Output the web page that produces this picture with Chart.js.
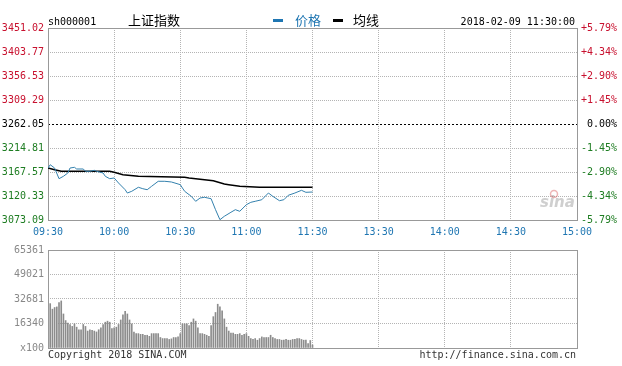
<!DOCTYPE html>
<html>
<head>
<meta charset="utf-8">
<script src="https://cdn.jsdelivr.net/npm/chart.js@4/dist/chart.umd.min.js"></script>
<style>
    html, body { margin: 0; padding: 0; background: #fff; }
    #wrap { position: relative; width: 622px; height: 366px; }
    #price-chart { position: absolute; left: 0; top: 0; }
    #vol-chart { position: absolute; left: 0; top: 240px; }
</style>
</head>
<body>
<div id="wrap">
    <canvas id="price-chart" width="622" height="240"></canvas>
    <canvas id="vol-chart" width="622" height="126"></canvas>
</div>
<script>
const symbol = 'sh000001';
const indexName = '上证指数';
const tradeTime = '2018-02-09 11:30:00';
const prevClose = 3262.05;

// left / right axis of the price panel
const priceTicks = [3073.09, 3120.33, 3167.57, 3214.81, 3262.05, 3309.29, 3356.53, 3403.77, 3451.02];
const pctLabels = ['-5.79%', '-4.34%', '-2.90%', '-1.45%', '0.00%', '+1.45%', '+2.90%', '+4.34%', '+5.79%'];

// minutes since 09:30 (11:30 and 13:00 share minute 120)
const timeTicks = [0, 30, 60, 90, 120, 150, 180, 210, 240];
const timeLabels = ['09:30', '10:00', '10:30', '11:00', '11:30', '13:30', '14:00', '14:30', '15:00'];

const priceMinutes = [0, 1, 3, 5, 7, 9, 10, 12, 13, 16, 17, 19, 21, 22, 25, 26, 28, 30, 32, 35, 36, 38, 41, 43, 45, 47, 50, 53, 56, 59, 60, 61, 62, 65, 67, 69, 71, 74, 76, 78, 80, 83, 85, 87, 90, 92, 94, 97, 100, 102, 105, 107, 109, 112, 115, 117, 120];
const prices = [3175.4, 3181.9, 3175.4, 3154.4, 3159.1, 3165.6, 3175.4, 3176.8, 3173.5, 3173.5, 3169.0, 3169.0, 3170.9, 3169.0, 3165.6, 3159.1, 3154.4, 3155.8, 3145.9, 3132.7, 3126.2, 3129.6, 3137.5, 3134.7, 3132.7, 3139.4, 3149.3, 3149.3, 3147.9, 3144.0, 3142.6, 3136.0, 3129.6, 3119.7, 3109.9, 3116.4, 3117.8, 3115.0, 3093.4, 3073.7, 3080.4, 3088.3, 3093.4, 3090.2, 3103.2, 3107.9, 3109.9, 3113.0, 3126.2, 3119.7, 3111.1, 3113.0, 3121.7, 3126.2, 3131.5, 3127.6, 3128.2];

const avgMinutes = [0, 3, 6, 28, 30, 34, 41, 62, 64, 75, 80, 82, 87, 96, 120];
const avgPrices = [3175.4, 3172.1, 3169.0, 3169.0, 3167.0, 3162.3, 3159.1, 3157.1, 3155.8, 3150.4, 3144.0, 3142.6, 3139.4, 3137.5, 3137.5];

// volume panel (x100 shares), one bar per minute from 09:31
const volTicks = [0, 16340, 32681, 49021, 65361];
const volLabels = ['x100', '16340', '32681', '49021', '65361'];
const volumes = [
    29600, 25900, 27000, 27400, 30300, 31400, 22700, 18300, 16600, 15700,
    14400, 16100, 13900, 12200, 12200, 15700, 14400, 11300, 12200, 11800,
    11300, 10700, 12200, 13500, 15700, 17200, 17900, 17200, 12900, 13500,
    13900, 15700, 18700, 22200, 24400, 22700, 18700, 16100, 10700, 9600,
    9600, 9100, 9100, 8500, 8500, 7800, 9600, 9600, 9600, 9600,
    7000, 6300, 6300, 6300, 5700, 6100, 7000, 7000, 7400, 9600,
    16100, 16100, 16100, 15000, 17200, 19400, 17900, 13500, 9600, 9600,
    9100, 8500, 7800, 15000, 20900, 23700, 29200, 27500, 24800, 19400,
    13900, 11300, 10000, 10000, 9100, 9100, 9600, 8500, 9100, 9600,
    7800, 6300, 5700, 6300, 5200, 6300, 7400, 7000, 7000, 7000,
    8500, 7000, 6300, 5700, 5700, 5200, 5200, 5700, 5200, 5200,
    5700, 5700, 6300, 6300, 5700, 5200, 5200, 3000, 5000, 2000
];

const RED = '#c8102e';
const GREEN = '#1e7d22';
const BLUE = '#1f76b2';
const GRID = '#b4b4b4';
const MONO = '"DejaVu Sans Mono", "Liberation Mono", monospace';

Chart.defaults.font.family = MONO;
Chart.defaults.font.size = 10;

function tickColor(v) {
    if (v > prevClose + 0.001) return RED;
    if (v < prevClose - 0.001) return GREEN;
    return '#000';
}

const priceFrame = {
    id: 'priceFrame',
    beforeDatasetsDraw(chart) {
        const { ctx, chartArea: a } = chart;
        const y = Math.round(chart.scales.y.getPixelForValue(prevClose)) + 0.5;
        ctx.save();
        ctx.strokeStyle = '#000';
        ctx.lineWidth = 1;
        ctx.setLineDash([2, 2]);
        ctx.beginPath();
        ctx.moveTo(a.left, y);
        ctx.lineTo(a.right, y);
        ctx.stroke();
        ctx.setLineDash([]);
        ctx.strokeStyle = '#999';
        ctx.strokeRect(a.left + 0.5, a.top + 0.5, a.right - a.left, a.bottom - a.top);

        // watermark
        ctx.fillStyle = 'rgba(160,160,160,0.5)';
        ctx.font = 'italic bold 15px "DejaVu Sans"';
        ctx.textAlign = 'left';
        ctx.textBaseline = 'alphabetic';
        ctx.fillText('sina', 540, 207);
        ctx.strokeStyle = 'rgba(215,90,90,0.45)';
        ctx.lineWidth = 1.5;
        ctx.beginPath();
        ctx.arc(554, 194, 3.5, 0, Math.PI * 2);
        ctx.stroke();
        ctx.restore();
    },
    afterDraw(chart) {
        const { ctx } = chart;
        ctx.save();
        ctx.textBaseline = 'alphabetic';
        ctx.textAlign = 'left';
        ctx.fillStyle = '#000';
        ctx.font = '10px ' + MONO;
        ctx.fillText(symbol, 48, 25);
        ctx.font = '13px "Noto Sans CJK SC"';
        ctx.fillText(indexName, 128, 25);

        ctx.fillStyle = BLUE;
        ctx.fillRect(273, 19, 10, 3);
        ctx.fillText('价格', 295, 25);
        ctx.fillStyle = '#000';
        ctx.fillRect(333, 19, 10, 3);
        ctx.fillText('均线', 353, 25);

        ctx.font = '10px ' + MONO;
        ctx.textAlign = 'right';
        ctx.fillText(tradeTime, 575, 25);
        ctx.restore();
    }
};

const volFrame = {
    id: 'volFrame',
    afterDraw(chart) {
        const { ctx, chartArea: a } = chart;
        ctx.save();
        ctx.strokeStyle = '#999';
        ctx.lineWidth = 1;
        ctx.strokeRect(a.left + 0.5, a.top + 0.5, a.right - a.left, a.bottom - a.top);
        ctx.fillStyle = '#333';
        ctx.font = '10px ' + MONO;
        ctx.textBaseline = 'alphabetic';
        ctx.textAlign = 'left';
        ctx.fillText('Copyright 2018 SINA.COM', 48, 118);
        ctx.textAlign = 'right';
        ctx.fillText('http://finance.sina.com.cn', 576, 118);
        ctx.restore();
    }
};

const timeAxis = (showLabels, height) => ({
    type: 'linear',
    min: 0,
    max: 240,
    offset: false,
    afterBuildTicks: s => { s.ticks = timeTicks.map(v => ({ value: v })); },
    afterFit: s => { s.height = height; },
    ticks: {
        display: showLabels,
        autoSkip: false,
        maxRotation: 0,
        padding: 6,
        color: BLUE,
        callback: (v, i) => timeLabels[i]
    },
    grid: { color: GRID, drawTicks: false, offset: false },
    border: { display: false, dash: [1, 1] }
});

new Chart(document.getElementById('price-chart').getContext('2d'), {
    type: 'line',
    data: {
        datasets: [{
            label: '价格',
            data: priceMinutes.map((m, i) => ({ x: m, y: prices[i] })),
            borderColor: '#3380ad',
            borderWidth: 1,
            pointRadius: 0,
            tension: 0
        }, {
            label: '均线',
            data: avgMinutes.map((m, i) => ({ x: m, y: avgPrices[i] })),
            borderColor: '#000',
            borderWidth: 1.5,
            pointRadius: 0,
            tension: 0
        }]
    },
    options: {
        responsive: false,
        animation: false,
        layout: { padding: { top: 28, right: 5, left: 0, bottom: 0 } },
        plugins: { legend: { display: false }, tooltip: { enabled: false } },
        scales: {
            x: timeAxis(true, 20),
            y: {
                position: 'left',
                min: priceTicks[0],
                max: priceTicks[priceTicks.length - 1],
                afterBuildTicks: s => { s.ticks = priceTicks.map(v => ({ value: v })); },
                afterFit: s => { s.width = 48; },
                ticks: {
                    padding: 4,
                    color: c => tickColor(c.tick.value),
                    callback: (v, i) => priceTicks[i].toFixed(2)
                },
                grid: {
                    drawTicks: false,
                    color: c => Math.abs(c.tick.value - prevClose) < 0.001 ? 'rgba(0,0,0,0)' : GRID
                },
                border: { display: false, dash: [1, 1] }
            },
            y1: {
                position: 'right',
                min: priceTicks[0],
                max: priceTicks[priceTicks.length - 1],
                afterBuildTicks: s => { s.ticks = priceTicks.map(v => ({ value: v })); },
                afterFit: s => { s.width = 40; },
                ticks: {
                    padding: 4,
                    crossAlign: 'far',
                    color: c => tickColor(c.tick.value),
                    callback: (v, i) => pctLabels[i]
                },
                grid: { display: false, drawTicks: false },
                border: { display: false }
            }
        }
    },
    plugins: [priceFrame]
});

new Chart(document.getElementById('vol-chart').getContext('2d'), {
    type: 'bar',
    data: {
        datasets: [{
            label: 'volume',
            data: volumes.map((v, i) => ({ x: i + 1, y: v })),
            backgroundColor: '#8c8c8c',
            barThickness: 1
        }]
    },
    options: {
        responsive: false,
        animation: false,
        layout: { padding: { top: 8, right: 45, left: 0, bottom: 0 } },
        plugins: { legend: { display: false }, tooltip: { enabled: false } },
        scales: {
            x: timeAxis(false, 18),
            y: {
                min: 0,
                max: volTicks[volTicks.length - 1],
                afterBuildTicks: s => { s.ticks = volTicks.map(v => ({ value: v })); },
                afterFit: s => { s.width = 48; },
                ticks: {
                    padding: 4,
                    color: '#888',
                    callback: (v, i) => volLabels[i]
                },
                grid: { color: GRID, drawTicks: false },
                border: { display: false, dash: [1, 1] }
            }
        }
    },
    plugins: [volFrame]
});
</script>
</body>
</html>
